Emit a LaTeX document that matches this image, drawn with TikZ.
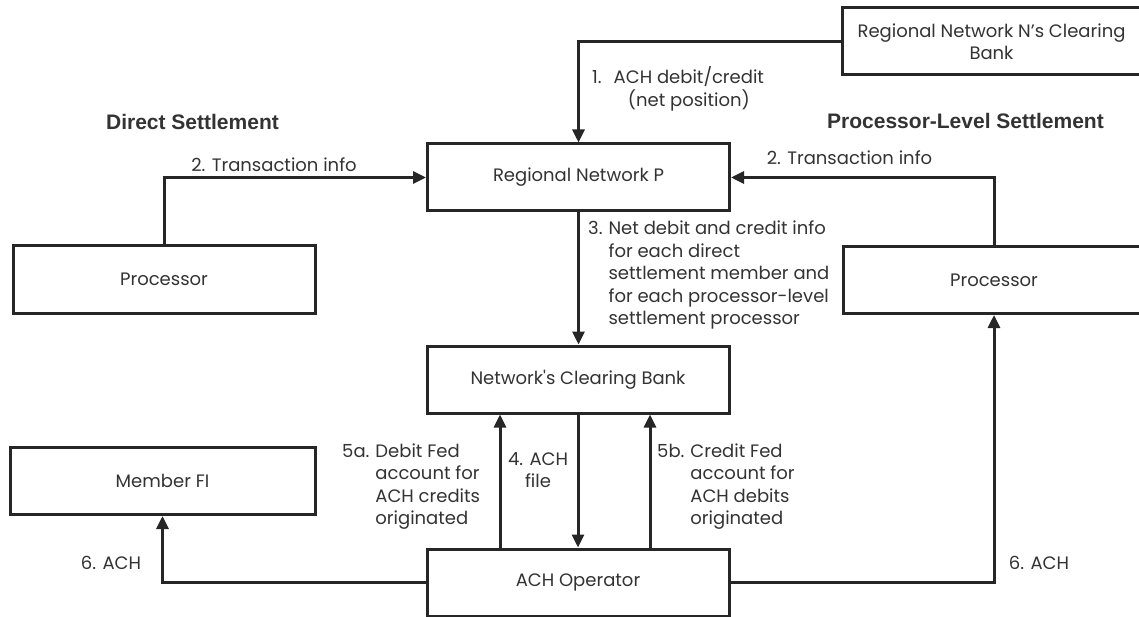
\documentclass[tikz,border=0pt]{standalone}
\usepackage{fontspec}
\setmainfont{Poppins}
\newfontfamily\headfont{Liberation Sans}
\usetikzlibrary{positioning,arrows.meta,calc}

\begin{document}
\begin{tikzpicture}[x=1pt, y=-1pt, font=\fontsize{18}{22.5}\selectfont, text=black!80,
  box/.style={draw=black!85, line width=3pt, align=center, minimum height=67pt, minimum width=302pt, inner sep=2pt},
  arr/.style={-{Triangle[length=13pt, width=12pt]}, line width=3pt, draw=black!85},
  lbl/.style={inner sep=0pt, align=left},
  head/.style={font=\headfont\bfseries\fontsize{21}{25}\selectfont, inner sep=0pt}]
\path[use as bounding box, fill=white] (0,0) rectangle (1139,617);
% boxes
\node[box, minimum width=299pt] (rnb) at (991.5,41.5) {Regional Network N’s Clearing\\Bank};
\node[box] (rnp) at (578.5,177.5) {Regional Network P};
\node[box] (procL) at (164,279.5) {Processor};
\node[box] (procR) at (994,280) {Processor};
\node[box] (ncb) at (578,379.5) {Network\textquotesingle s Clearing Bank};
\node[box] (acho) at (578,582.5) {ACH Operator};
\node[box, minimum width=305pt] (mfi) at (162.5,481) {Member FI};
% connectors
\draw[arr] (rnb.west) -| (rnp.north);
\draw[arr] (procL.north) |- (rnp.west);
\draw[arr] (procR.north) |- (rnp.east);
\draw[arr] (rnp.south) -- (rnp.south |- ncb.north);
\draw[arr] (ncb.south) -- (acho.north);
\foreach \dx in {-78,72} \draw[arr] ([xshift=\dx pt]acho.north) -- ([xshift=\dx pt]ncb.south);
\foreach \a/\b in {acho.west/mfi.south, acho.east/procR.south} \draw[arr] (\a) -| (\b);
% headings and labels
\node[head] (direct) at (192.5,122) {Direct Settlement};
\node[head] (proclvl) at (965.5,121) {Processor-Level Settlement};
\node[lbl, anchor=west] (lab1) at (592,90) {\begin{tabular}{@{}l@{\hspace{12pt}}c@{}}1. & ACH debit/credit\\ & (net position)\end{tabular}};
\node[lbl] (lab2l) at (274,165) {2. Transaction info};
\node[lbl] (lab2r) at (849.5,158) {2. Transaction info};
\node[lbl, anchor=north west] (lab3) at (588,219) {\begin{tabular}[t]{@{}l@{\hspace{6pt}}l@{}}3. & Net debit and credit info\\ & for each direct\\ & settlement member and\\ & for each processor-level\\ & settlement processor\end{tabular}};
\node[lbl, align=center] (lab4) at (538,470) {4. ACH\\file};
\node[lbl, anchor=west] (lab5a) at (342,486.5) {\begin{tabular}{@{}l@{\hspace{6pt}}l@{}}5a. & Debit Fed\\ & account for\\ & ACH credits\\ & originated\end{tabular}};
\node[lbl, anchor=west] (lab5b) at (657,486.5) {\begin{tabular}{@{}l@{\hspace{6pt}}l@{}}5b. & Credit Fed\\ & account for\\ & ACH debits\\ & originated\end{tabular}};
\node[lbl] (lab6l) at (111,563) {6. ACH};
\node[lbl] (lab6r) at (1039,563) {6. ACH};
\end{tikzpicture}
\end{document}
